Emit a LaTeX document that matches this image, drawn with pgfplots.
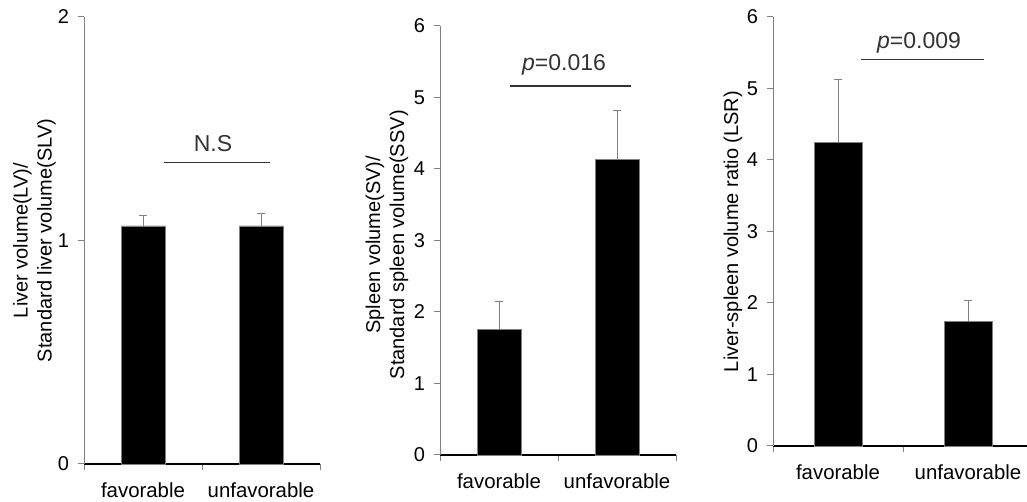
\documentclass[border=0pt]{standalone}
\usepackage{fontspec}
\setmainfont{Liberation Sans}
\usepackage{pgfplots}
\pgfplotsset{compat=1.18}

\tikzset{
  sig/.style={line width=0.6pt, black!80},
  sigtext/.style={font=\fontsize{11.5}{13}\selectfont, text=black!80},
}
\pgfplotsset{
  panel/.style={
    scale only axis,
    anchor=south west,
    ybar, bar width=22pt,
    axis x line*=bottom, axis y line*=left,
    x axis line style={black, line width=0.6pt},
    y axis line style={gray, line width=0.5pt},
    xmin=0.5, xmax=2.5, ymin=0,
    xtick={0.5,1.5,2.5}, xticklabels={},
    extra x ticks={1,2}, extra x tick labels={favorable,unfavorable},
    extra x tick style={major tick length=0pt},
    xticklabel style={font=\fontsize{10.2}{12}\selectfont, yshift=-6pt},
    tick style={draw=gray, line width=0.5pt},
    tick align=outside, major tick length=3pt,
    yticklabel style={font=\fontsize{10}{12}\selectfont, xshift=-1pt},
    /pgf/number format/assume math mode=true,
    ylabel style={font=\fontsize{10}{12}\selectfont, align=center, anchor=center},
    clip=false,
    error bars/y dir=plus, error bars/y explicit,
    error bars/error bar style={gray, line width=0.5pt},
    error bars/error mark options={gray, rotate=90, mark size=1.8pt, line width=0.5pt},
  },
  bars/.style={fill=black, draw=gray, line width=0.4pt},
}

\begin{document}
\begin{tikzpicture}
\path[use as bounding box] (0,0) rectangle (513.5pt,251pt);

% left: LV/SLV
\begin{axis}[panel, at={(42pt,19pt)}, width=118pt, height=223.5pt,
  ymax=2, ytick={0,1,2},
  ylabel={Liver volume(LV)/\\Standard liver volume(SLV)},
  ylabel style={at={(axis description cs:-0.21,0.5)}}]
\addplot[bars] coordinates {(1,1.065) +- (0,0.045) (2,1.065) +- (0,0.055)};
\draw[sig] (axis cs:1.178,1.35) -- (axis cs:2.076,1.35);
\node[sigtext] at (axis cs:1.593,1.432) {N.S};
\end{axis}

% middle: SV/SSV
\begin{axis}[panel, at={(220pt,23.5pt)}, width=118pt, height=214.5pt,
  ymax=6, ytick={0,1,2,3,4,5,6},
  ylabel={Spleen volume(SV)/\\Standard spleen volume(SSV)},
  ylabel style={at={(axis description cs:-0.225,0.49)}}]
\addplot[bars] coordinates {(1,1.75) +- (0,0.39) (2,4.13) +- (0,0.69)};
\draw[sig] (axis cs:1.093,5.16) -- (axis cs:2.119,5.16);
\node[sigtext] at (axis cs:1.551,5.45) {\textit{p}=0.016};
\end{axis}

% right: LSR
\begin{axis}[panel, at={(386.5pt,28pt)}, width=130pt, height=214.5pt,
  bar width=24pt,
  ymax=6, ytick={0,1,2,3,4,5,6},
  ylabel={Liver-spleen volume ratio (LSR)},
  ylabel style={at={(axis description cs:-0.154,0.5)}}]
\addplot[bars] coordinates {(1,4.25) +- (0,0.88) (2,1.74) +- (0,0.29)};
\draw[sig] (axis cs:1.177,5.40) -- (axis cs:2.123,5.40);
\node[sigtext] at (axis cs:1.623,5.64) {\textit{p}=0.009};
\end{axis}
\end{tikzpicture}
\end{document}
